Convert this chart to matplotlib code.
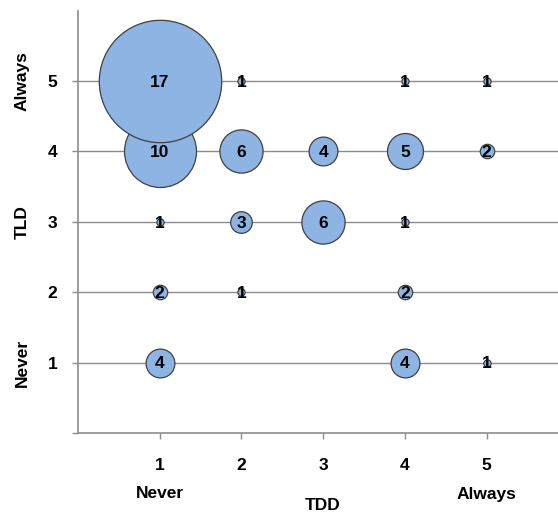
import numpy as np
import matplotlib.pyplot as plt

plt.rcParams['font.family'] = ['Liberation Sans', 'DejaVu Sans']
plt.rcParams['font.weight'] = 'bold'

# bubble data: TDD (x), TLD (y), count
tdd = [1, 2, 3, 4, 5, 1, 2, 3, 4, 1, 2, 4, 1, 4, 5, 2, 4, 5, 1]
tld = [4, 4, 4, 4, 4, 3, 3, 3, 3, 2, 2, 2, 1, 1, 1, 5, 5, 5, 5]
count = [10, 6, 4, 5, 2, 1, 3, 6, 1, 2, 1, 2, 4, 4, 1, 1, 1, 1, 17]

ticks = [1, 2, 3, 4, 5]
x_words = {1: 'Never', 3: 'TDD', 5: 'Always'}
y_words = {1: 'Never', 3: 'TLD', 5: 'Always'}

FS = 12.5

fig = plt.figure(figsize=(5.58, 5.16), dpi=100)
ax = fig.add_axes([78 / 558, 1 - 433 / 516, 1 - 78 / 558, (433 - 10.5) / 516])

px = 72 / fig.dpi
cnt = np.array(count, dtype=float)
diam_pt = 2 * 3.6 * cnt * px
for x, y, c, d in zip(tdd, tld, count, diam_pt):
    ax.scatter([x], [y], s=d ** 2, color='#8EB4E3', edgecolors='#404040',
               linewidths=0.9, zorder=3, clip_on=False)
for x, y, c in zip(tdd, tld, count):
    ax.text(x, y - 0.02, str(c), ha='center', va='center', fontsize=FS,
            fontweight='bold', color='black', zorder=5)

ax.set_xlim(0, (558 - 78) / 81.7)
ax.set_ylim(0, 6)
ax.set_xticks(ticks)
ax.set_xticklabels([str(t) for t in ticks])
ax.set_yticks([0] + ticks)
ax.set_yticklabels([''] + [str(t) for t in ticks])
for t in ticks:
    ax.axhline(t, color='#8C8C8C', lw=1.0, zorder=1)

for s in ['top', 'right']:
    ax.spines[s].set_visible(False)
for s in ['left', 'bottom']:
    ax.spines[s].set_color('#8C8C8C')
    ax.spines[s].set_linewidth(1.2)
ax.tick_params(axis='both', colors='#8C8C8C', length=4, width=1, labelsize=FS,
               labelcolor='black')
ax.tick_params(axis='x', pad=14)
ax.tick_params(axis='y', pad=11)
for lab in ax.get_xticklabels() + ax.get_yticklabels():
    lab.set_fontweight('bold')

# category words under/beside the numbers
for t, w in x_words.items():
    yoff = -73 if w == 'TDD' else -61
    ax.annotate(w, xy=(t, 0), xycoords='data', xytext=(0, yoff * px),
                textcoords='offset points', ha='center', va='center',
                fontsize=FS, fontweight='bold', annotation_clip=False)
for t, w in y_words.items():
    ax.annotate(w, xy=(0, t), xycoords='data', xytext=(-56 * px, 0),
                textcoords='offset points', ha='center', va='center',
                rotation=90, fontsize=FS, fontweight='bold',
                annotation_clip=False)

fig.savefig('out.png', dpi=100)
